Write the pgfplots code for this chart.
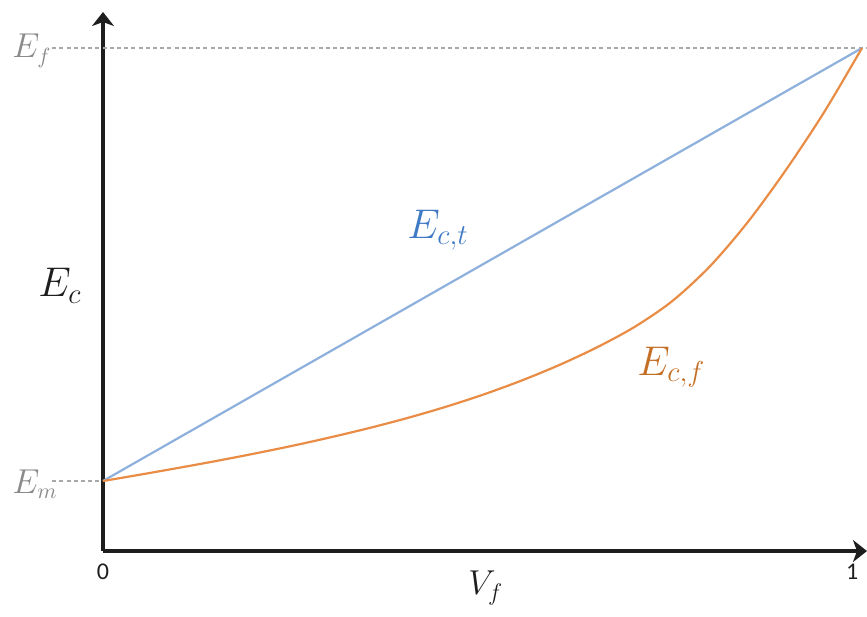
\documentclass[border=0pt]{standalone}
\usepackage{pgfplots}
\pgfplotsset{compat=1.18}
\usepackage{fontspec}
\newfontfamily\calibri{Carlito}
\usetikzlibrary{arrows.meta}

\definecolor{axisdark}{HTML}{1E1E1E}
\definecolor{ctblue}{HTML}{8EB0DD}
\definecolor{ctlabel}{HTML}{3F7AC4}
\definecolor{cforange}{HTML}{E98C45}
\definecolor{cflabel}{HTML}{C46F26}
\definecolor{refgray}{HTML}{A8A8A8}
\definecolor{labgray}{HTML}{8A8A8A}

% Composite modulus versus fibre volume fraction (normalised: E_m -> 0, E_f -> 1)
\pgfplotstableread{
vf   ec
0.00 0.0000
0.05 0.0150
0.10 0.0305
0.15 0.0465
0.20 0.0635
0.25 0.0815
0.30 0.1010
0.35 0.1220
0.40 0.1450
0.45 0.1705
0.50 0.1990
0.55 0.2310
0.60 0.2670
0.65 0.3080
0.70 0.3555
0.75 0.4155
0.80 0.4965
0.85 0.5990
0.90 0.7190
0.95 0.8515
1.00 1.0000
}\ecf

\pgfplotstableread{
vf   ec
0.000 0.000
1.000 1.000
}\ect

\begin{document}
\begin{tikzpicture}
\begin{axis}[
  scale only axis, width=382pt, height=269.5pt,
  xmin=0, xmax=1.0066, ymin=-0.1617, ymax=1.0831,
  axis lines=left,
  axis line style={line width=2pt, draw=axisdark, -{Stealth[length=7pt,width=11pt,inset=2pt]}},
  every outer x axis line/.append style={-{Stealth[length=7pt,width=11pt,inset=2pt]}},
  every outer y axis line/.append style={-{Stealth[length=7pt,width=11pt,inset=2pt]}},
  clip=false,
  xtick={0,0.987}, xticklabels={0,1},
  ytick=\empty,
  major tick length=0pt,
  xticklabel style={font=\calibri\fontsize{12}{14}\selectfont, text=axisdark, yshift=-3pt},
]
  % reference levels of the matrix and fibre moduli
  \addplot[refgray, line width=0.8pt, dash pattern=on 2pt off 1.6pt] coordinates {(-0.067,1) (1.0066,1)};
  \addplot[refgray, line width=0.8pt, dash pattern=on 2pt off 1.6pt] coordinates {(-0.067,0) (0,0)};

  \addplot[ctblue, line width=1.1pt] table[x=vf, y=ec] {\ect};
  \addplot[cforange, line width=1.1pt, smooth] table[x=vf, y=ec] {\ecf};

  \node[anchor=base west, inner sep=0, text=labgray, font=\fontsize{16}{18}\selectfont] at (axis cs:-0.12,0.977) {$E_f$};
  \node[anchor=base west, inner sep=0, text=labgray, font=\fontsize{16}{18}\selectfont] at (axis cs:-0.12,-0.028) {$E_m$};
  \node[anchor=base west, inner sep=0, text=axisdark, font=\fontsize{22}{26}\selectfont] at (axis cs:-0.0856,0.425) {$E_c$};
  \node[anchor=base west, inner sep=0, text=ctlabel, font=\fontsize{20}{24}\selectfont] at (axis cs:0.4005,0.561) {$E_{c,t}$};
  \node[anchor=base west, inner sep=0, text=cflabel, font=\fontsize{20}{24}\selectfont] at (axis cs:0.7036,0.2448) {$E_{c,f}$};
  \node[anchor=base west, inner sep=0, text=axisdark, font=\fontsize{18}{22}\selectfont] at (axis cs:0.481,-0.263) {$V_f$};

  \coordinate (bl) at (axis cs:-0.1357,-0.3118);
  \coordinate (tr) at (axis cs:1.0066,1.1109);
\end{axis}
\pgfresetboundingbox
\path[use as bounding box] (bl) rectangle (tr);
\end{tikzpicture}
\end{document}
